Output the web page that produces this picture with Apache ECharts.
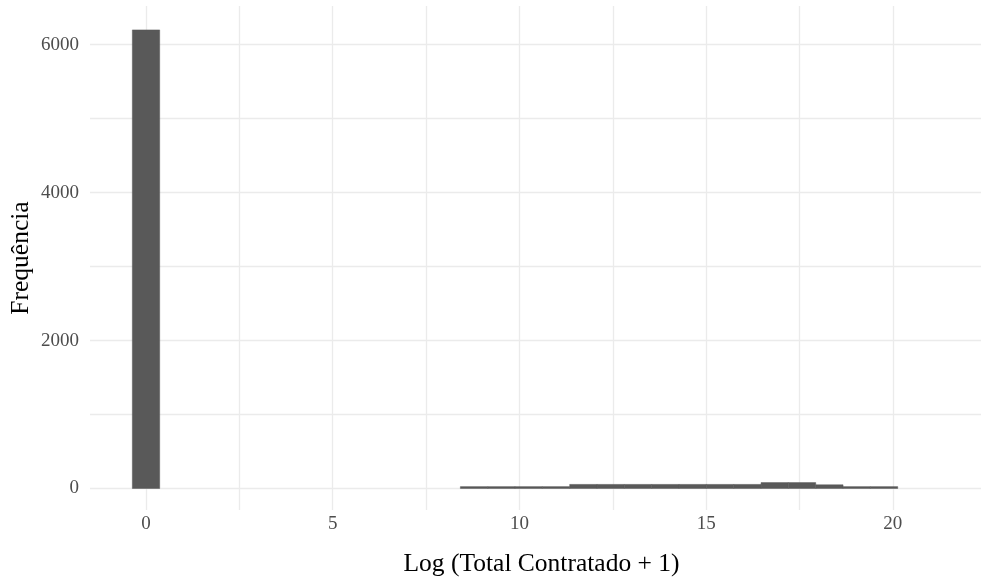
<!DOCTYPE html>
<html>
<head>
<meta charset="utf-8">
<script src="https://cdn.jsdelivr.net/npm/echarts@6/dist/echarts.min.js"></script>
<style>
  html, body { margin: 0; padding: 0; background: #ffffff; }
  #chart { width: 981px; height: 577px; }
</style>
</head>
<body>
<div id="chart"></div>
<script>
// Histogram of log(total contracted + 1): bin edges and counts
const binLeft  = [-0.366, 8.418, 9.150, 9.882, 10.614, 11.346, 12.078, 12.810, 13.542, 14.274, 15.006, 15.738, 16.470, 17.202, 17.934, 18.666, 19.398];
const binRight = [ 0.366, 9.150, 9.882, 10.614, 11.346, 12.078, 12.810, 13.542, 14.274, 15.006, 15.738, 16.470, 17.202, 17.934, 18.666, 19.398, 20.130];
const counts   = [6200, 25, 25, 25, 25, 55, 55, 55, 55, 55, 55, 55, 80, 80, 50, 25, 25];

// Axis ticks and grid lines
const xTicks = [0, 5, 10, 15, 20];
const xMinor = [2.5, 7.5, 12.5, 17.5];
const yTicks = [0, 2000, 4000, 6000];
const yMinor = [1000, 3000, 5000];

const xRange = [-1.5, 22.36];
const yRange = [-291, 6523];

const FONT = '"Liberation Serif", "Times New Roman", serif';
const GRID_COLOR = '#ebebeb';
const BAR_COLOR = '#595959';

const histData = binLeft.map((l, i) => [l, binRight[i], counts[i]]);

const gridLines = []
  .concat(xTicks.map(v => ({ xAxis: v })))
  .concat(xMinor.map(v => ({ xAxis: v })))
  .concat(yTicks.map(v => ({ yAxis: v })))
  .concat(yMinor.map(v => ({ yAxis: v })));

const chart = echarts.init(document.getElementById('chart'), null, { renderer: 'canvas' });

chart.setOption({
  animation: false,
  backgroundColor: '#ffffff',
  grid: { left: 90, right: 0, top: 6, bottom: 67, containLabel: false, outerBoundsMode: 'none' },
  xAxis: {
    type: 'value',
    min: xRange[0],
    max: xRange[1],
    name: 'Log (Total Contratado + 1)',
    nameLocation: 'middle',
    nameGap: 41,
    nameTextStyle: { fontFamily: FONT, fontSize: 25.5, color: '#000000', padding: [0, 0, 0, 12] },
    axisLine: { show: false },
    axisTick: { show: false },
    splitLine: { show: false },
    axisLabel: {
      customValues: xTicks,
      formatter: v => String(v),
      fontFamily: FONT,
      fontSize: 19,
      color: '#4d4d4d',
      margin: 5
    }
  },
  yAxis: {
    type: 'value',
    min: yRange[0],
    max: yRange[1],
    name: 'Frequência',
    nameLocation: 'middle',
    nameRotate: 90,
    nameGap: 56,
    nameMoveOverlap: false,
    nameTextStyle: { fontFamily: FONT, fontSize: 25.5, color: '#000000' },
    axisLine: { show: false },
    axisTick: { show: false },
    splitLine: { show: false },
    axisLabel: {
      customValues: yTicks,
      formatter: v => String(v),
      fontFamily: FONT,
      fontSize: 19,
      color: '#4d4d4d',
      margin: 11
    }
  },
  series: [
    {
      type: 'line',
      data: [],
      z: 1,
      silent: true,
      markLine: {
        silent: true,
        symbol: ['none', 'none'],
        label: { show: false },
        lineStyle: { color: GRID_COLOR, width: 1.3, type: 'solid' },
        emphasis: { disabled: true },
        z: 1,
        data: gridLines
      }
    },
    {
      type: 'custom',
      z: 10,
      silent: true,
      data: histData,
      encode: { x: [0, 1], y: 2 },
      renderItem: function (params, api) {
        const p0 = api.coord([api.value(0), api.value(2)]);
        const p1 = api.coord([api.value(1), 0]);
        return {
          type: 'rect',
          shape: { x: p0[0], y: p0[1], width: p1[0] - p0[0], height: p1[1] - p0[1] },
          style: { fill: BAR_COLOR, stroke: BAR_COLOR, lineWidth: 0.5 }
        };
      }
    }
  ]
});
</script>
</body>
</html>
